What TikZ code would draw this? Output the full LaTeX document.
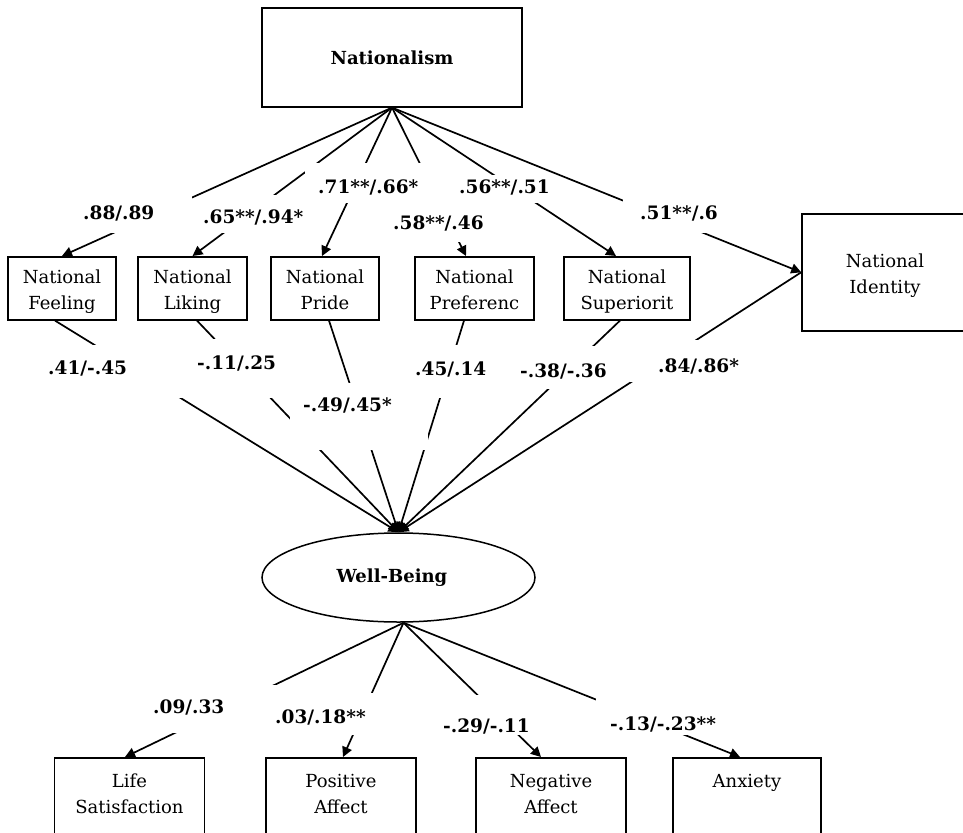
\documentclass[tikz,border=0pt]{standalone}
\usepackage{fontspec}
\setmainfont{DejaVu Serif}
\usetikzlibrary{arrows.meta,shapes.geometric}
\begin{document}
\begin{tikzpicture}[x=1pt,y=-1pt,
  box/.style={draw,line width=1.6pt,inner xsep=2pt,inner ysep=0pt,align=center,anchor=north,
    font=\fontsize{18}{26}\selectfont},
  lab/.style={fill=white,inner ysep=0pt,align=left,anchor=north west,
    font=\fontsize{18.5}{22}\selectfont\bfseries},
  conn/.style={line width=1.7pt},
  arr/.style={conn,-{Triangle[length=10pt,width=10pt]}},
]
\useasboundingbox (0,0) rectangle (963,832);
\clip (0,0) rectangle (963,832);
\fill[white] (0,0) rectangle (963,832);

% boxes
\node[box,minimum width=260pt,text height=56.6pt,text depth=42.4pt,
  font=\fontsize{18}{26}\selectfont\bfseries] (nat) at (392,7) {Nationalism};
\node[box,minimum width=108pt,text height=52.6pt,text depth=10.4pt] (feel) at (62,256) {National\\Feeling};
\node[box,minimum width=109pt,text height=52.6pt,text depth=10.4pt] (lik) at (192.5,256) {National\\Liking};
\node[box,minimum width=108pt,text height=52.6pt,text depth=10.4pt] (pride) at (325,256) {National\\Pride};
\node[box,minimum width=119pt,text height=52.6pt,text depth=10.4pt] (pref) at (474.5,256) {National\\Preferenc};
\node[box,minimum width=126pt,text height=52.6pt,text depth=10.4pt] (sup) at (627,256) {National\\Superiorit};
\node[box,minimum width=166pt,text height=79.6pt,text depth=37.4pt] (nid) at (885,213) {National\\Identity};
\node[draw,ellipse,line width=1.5pt,minimum width=273pt,minimum height=89pt,inner sep=0pt,
  font=\fontsize{18}{26}\selectfont\bfseries] (wb) at (398.5,577.5) {Well-Being\hspace*{13pt}};
\node[box,minimum width=150pt,text height=55.6pt,text depth=60pt] (ls) at (129.5,757) {Life\\Satisfaction};
\node[box,minimum width=150pt,text height=55.6pt,text depth=60pt] (pa) at (341,757) {Positive\\Affect};
\node[box,minimum width=150pt,text height=55.6pt,text depth=60pt] (na) at (551,757) {Negative\\Affect};
\node[box,minimum width=148pt,text height=29.6pt,text depth=86pt] (anx) at (747,757) {Anxiety};

% connectors from Nationalism
\draw[arr] (nat.south) -- (feel.north);
\draw[arr] (nat.south) -- (lik.north);
\draw[arr] (nat.south) -- ([xshift=-3pt]pride.north);
\draw[arr] (nat.south) -- ([xshift=-8.5pt]pref.north);
\draw[arr] (nat.south) -- ([xshift=-11pt]sup.north);
\draw[arr] (nat.south) -- (nid.west);

% connectors to Well-Being
\draw[arr] ([xshift=-7pt]feel.south) -- (wb.north);
\draw[arr] ([xshift=4.5pt]lik.south) -- (wb.north);
\draw[arr] ([xshift=4pt]pride.south) -- (wb.north);
\draw[arr] ([xshift=-10.5pt]pref.south) -- (wb.north);
\draw[arr] ([xshift=-7pt]sup.south) -- (wb.north);
\draw[arr] (nid.west) -- (wb.north);

% connectors from Well-Being
\draw[arr] ([xshift=5pt]wb.south) -- ([xshift=-4.5pt]ls.north);
\draw[arr] ([xshift=5pt]wb.south) -- ([xshift=2pt]pa.north);
\draw[arr] ([xshift=5pt]wb.south) -- ([xshift=-10pt]na.north);
\draw[arr] ([xshift=5pt]wb.south) -- ([xshift=-7pt]anx.north);

% labels
\node[lab,inner xsep=3pt,text width=106pt,text height=23.75pt,text depth=13.25pt] (l88) at (80,196) {\mbox{.88/.89}};
\node[lab,inner xsep=3pt,text width=112pt,text height=28.75pt,text depth=9.25pt] (l65) at (200,195) {\mbox{.65**/.94*}};
\node[lab,inner xsep=13pt,text width=114pt,text height=30.75pt,text depth=9.25pt] (l71) at (305,163) {\mbox{.71**/.66*}};
\node[lab,inner xsep=8pt,text width=94pt,text height=26.75pt,text depth=12.25pt] (l58) at (385,203) {\mbox{.58**/.46}};
\node[lab,inner xsep=4pt,text width=94pt,text height=18.75pt,text depth=9.25pt] (l56) at (455,175) {\mbox{.56**/.51}};
\node[lab,inner xsep=17pt,text width=90pt,text height=29.75pt,text depth=13.25pt] (l51) at (623,190) {\mbox{.51**/.6}};
\node[lab,inner xsep=8pt,text width=136pt,text height=29.75pt,text depth=23.25pt] (l41) at (40,345) {\mbox{.41/-.45}};
\node[lab,inner xsep=2pt,text width=81pt,text height=30.75pt,text depth=28.25pt] (l11) at (195,339) {\mbox{-.11/.25}};
\node[lab,inner xsep=13pt,text width=112pt,text height=28.75pt,text depth=38.25pt] (l49) at (290,383) {\mbox{-.49/.45*}};
\node[lab,inner xsep=5pt,text width=75pt,text height=30.75pt,text depth=22.25pt] (l45) at (410,345) {\mbox{.45/.14}};
\node[lab,inner xsep=20pt,text width=72pt,text height=31.75pt,text depth=11.25pt] (l38) at (500,346) {\mbox{-.38/-.36}};
\node[lab,inner xsep=28pt,text width=64pt,text height=32.75pt,text depth=9.25pt] (l84) at (630,340) {\mbox{.84/.86*}};
\node[lab,inner xsep=13pt,text width=124pt,text height=28.75pt,text depth=19.25pt] (l09) at (140,685) {\mbox{.09/.33}};
\node[lab,inner xsep=5pt,text width=100pt,text height=30.75pt,text depth=11.25pt] (l03) at (270,693) {\mbox{.03/.18**}};
\node[lab,inner xsep=3pt,text width=89pt,text height=37.75pt,text depth=2.25pt] (l29) at (440,695) {\mbox{-.29/-.11}};
\node[lab,inner xsep=14pt,text width=101pt,text height=32.75pt,text depth=4.25pt] (l13) at (596,698) {\mbox{-.13/-.23**}};
\end{tikzpicture}
\end{document}
